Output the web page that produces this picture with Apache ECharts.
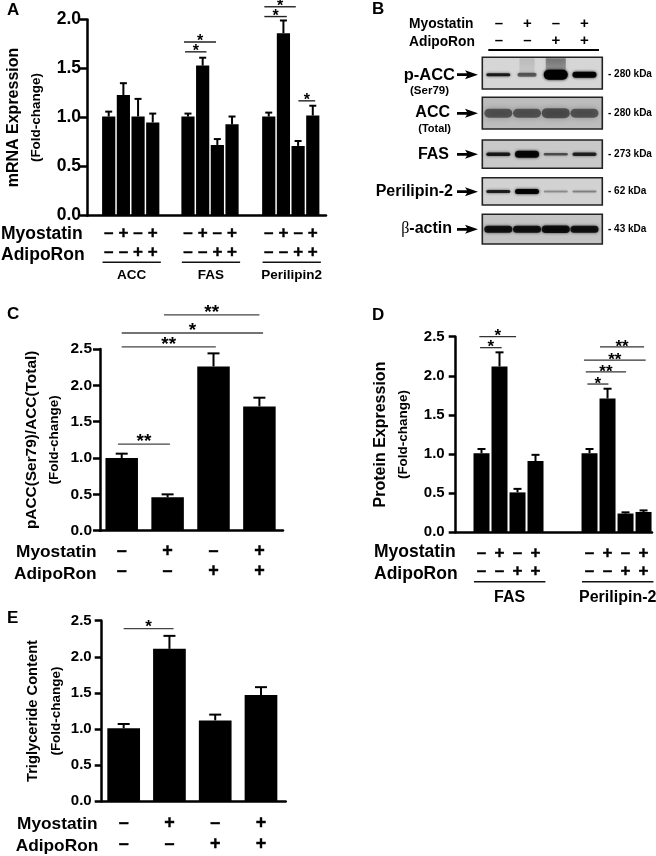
<!DOCTYPE html>
<html><head><meta charset="utf-8">
<style>html,body{margin:0;padding:0;background:#fff}#c{width:656px;height:856px}</style>
<script src="https://cdn.jsdelivr.net/npm/echarts@6/dist/echarts.min.js"></script>
</head><body><div id="c"></div>
<script>
// ---------- DATA ----------
const myostatinSigns = ['–','+','–','+'];
const adipoRonSigns  = ['–','–','+','+'];

const aGroups = ['ACC','FAS','Perilipin2'];
const aValues = [[1.01,1.23,1.01,0.95],[1.01,1.53,0.72,0.93],[1.01,1.86,0.71,1.02]];
const aErrTop = [[1.06,1.35,1.19,1.04],[1.04,1.61,0.78,1.01],[1.05,1.99,0.76,1.12]];
const aBrackets = [[5.20,6.66,1.67,'*'],[5.13,7.31,1.77,'*'],[10.60,12.13,2.03,'*'],[10.60,12.74,2.13,'*'],[12.92,14.06,1.17,'*']];

const cValues = [1.00,0.46,2.26,1.71];
const cErrTop = [1.06,0.50,2.44,1.83];
const cBrackets = [[-0.08,1.05,1.19,'**'],[0,2.05,2.53,'**'],[0,3.08,2.72,'*'],[0.92,3.0,2.97,'**']];

const dGroups = ['FAS','Perilipin-2'];
const dValues = [[1.01,2.12,0.51,0.91],[1.01,1.71,0.24,0.26]];
const dErrTop = [[1.065,2.30,0.555,0.99],[1.065,1.835,0.255,0.28]];
const dBrackets = [[-0.08,1.12,2.36,'*'],[-0.12,1.92,2.50,'*'],[5.88,7.05,1.895,'*'],[5.79,8.03,2.05,'**'],[5.69,9.12,2.20,'**'],[6.58,9.03,2.37,'**']];

const eValues = [1.01,2.11,1.12,1.47];
const eErrTop = [1.07,2.29,1.20,1.58];
const eBrackets = [[0,1.09,2.39,'*']];

// Western blot: band thickness and darkness per lane
const blotNames = ['p-ACC','ACC','FAS','Perilipin-2','β-actin'];
const blotKDa   = ['- 280 kDa','- 280 kDa','- 273 kDa','- 62 kDa','- 43 kDa'];
const blotThick = [[3,4,10,6],[9,9,10,9],[3.5,7,2.5,3.5],[3,5,2,2],[7,7,7.5,7]];
const blotDark  = [[0.8,0.5,1,0.95],[0.5,0.5,0.52,0.5],[0.8,0.9,0.55,0.75],[0.78,0.95,0.3,0.35],[0.82,0.82,0.85,0.82]];
const blotSmear = [[0,0.12,0.42,0],[0,0,0,0],[0,0,0,0],[0,0,0,0],[0,0,0,0]];

// ---------- LAYOUT ----------
const FF = '"Liberation Sans", Arial, sans-serif';
const F = (s, w='bold') => `${w} ${s}px ${FF}`;
const layouts = {
  A:{left:87, right:326, top:19.5, bottom:215.5, yMax:2, xMin:-1.478, xMax:14.8, barW:13.2, capW:7, tick:17.5, margin:6, origins:[0,5.4,10.9],
     row1:233.3,row2:252,signSize:17,starSize:16,starOff:0,brColor:'#222',brW:1.4,errW:2,
     name1:'mRNA Expression',s1:16,s2:13.5,gap:40,lh:22},
  C:{left:100, right:283, top:349, bottom:530.7, yMax:2.5, xMin:-0.473, xMax:3.514, barW:32.5, capW:12, tick:15.5, margin:8, origins:[0],
     row1:551,row2:571.5,signSize:18,starSize:19,starOff:2,brColor:'#444',brW:1.3,errW:2,
     name1:'pACC(Ser79)/ACC(Total)',s1:15.4,s2:13.5,gap:34,lh:23},
  D:{left:455.7,right:652, top:336.7,bottom:532.3,yMax:2.5, xMin:-1.433, xMax:9.47, barW:16, capW:8, tick:15, margin:11, origins:[0,6],
     row1:553,row2:571,signSize:17,starSize:17,starOff:0,brColor:'#333',brW:1.3,errW:2,
     name1:'Protein Expression',s1:16,s2:13.5,gap:41,lh:23},
  E:{left:101.7,right:285.7,top:620.7,bottom:801.3,yMax:2.5, xMin:-0.48, xMax:3.54, barW:32.7, capW:12, tick:15, margin:10, origins:[0],
     row1:822.7,row2:844,signSize:18,starSize:17,starOff:1,brColor:'#444',brW:1.3,errW:2,
     name1:'Triglyceride Content',s1:14.7,s2:13.5,gap:34,lh:23}
};
const blotGrid = {left:482.3, width:120, tops:[57.3,97.3,140,177.7,214.3], heights:[31.7,31.7,28.3,27.3,29.7],
  bands:[0.55,0.5,0.5,0.51,0.5], widths:[24,28,24,24,28], blur:[3,6,3,3,3], bg:['#d6d6d6','#bdbdbd','#c9c9c9','#d2d2d2','#c4c4c4'], xMin:-0.557, xMax:3.62};

const grid=[], xAxis=[], yAxis=[], series=[];

function textEl(x,y,text,font,heavy){
  const style={x,y,text,font,align:'center',verticalAlign:'middle',textAlign:'center',textVerticalAlign:'middle',fill:'#000'};
  if(heavy){style.stroke='#000';style.lineWidth=0.4;}
  return {type:'text',silent:true,style};
}

function addPanel(L, valueGroups, errGroups, brackets, groupNames, groupLine, groupLabelY){
  const i = grid.length;
  grid.push({left:L.left, top:L.top, width:L.right-L.left, height:L.bottom-L.top});
  xAxis.push({gridIndex:i,type:'value',min:L.xMin,max:L.xMax,axisTick:{show:false},axisLabel:{show:false},splitLine:{show:false},
    axisLine:{show:true,lineStyle:{color:'#000',width:2.5}}});
  yAxis.push({gridIndex:i,type:'value',min:0,max:L.yMax,interval:0.5,splitLine:{show:false},
    axisLine:{show:true,onZero:false,lineStyle:{color:'#000',width:2.5}},
    axisTick:{show:true,length:7,lineStyle:{color:'#000',width:2.5}},
    axisLabel:{margin:L.margin,fontFamily:FF,fontWeight:'bold',fontSize:L.tick,color:'#000',formatter:v=>v.toFixed(1)},
    name:`{a|${L.name1}}\n{b|(Fold-change)}`,nameLocation:'middle',nameGap:L.gap,nameRotate:90,
    nameTextStyle:{rich:{a:{fontFamily:FF,fontWeight:'bold',fontSize:L.s1,color:'#000',lineHeight:L.lh,align:'center'},
                         b:{fontFamily:FF,fontWeight:'bold',fontSize:L.s2,color:'#000',lineHeight:L.lh,align:'center'}}}});
  const bars=[], errs=[], signs=[];
  valueGroups.forEach((vals,g)=>{
    vals.forEach((v,k)=>{
      const x=L.origins[g]+k;
      bars.push([x,v]);
      errs.push([x,errGroups[g][k],v]);
      signs.push([x,myostatinSigns[k],adipoRonSigns[k]]);
    });
  });
  const base={xAxisIndex:i,yAxisIndex:i,silent:true,animation:false};
  series.push({...base,type:'bar',data:bars,barWidth:L.barW,itemStyle:{color:'#000'}});
  series.push({...base,type:'custom',data:errs,encode:{x:0,y:1},clip:false,renderItem:(p,api)=>{
    const x=api.value(0),t=api.coord([x,api.value(1)]),b=api.coord([x,api.value(2)]);
    const st={stroke:'#000',lineWidth:L.errW};
    return {type:'group',children:[
      {type:'line',shape:{x1:t[0],y1:t[1],x2:b[0],y2:b[1]},style:st},
      {type:'line',shape:{x1:t[0]-L.capW/2,y1:t[1],x2:t[0]+L.capW/2,y2:t[1]},style:st}]};
  }});
  series.push({...base,type:'custom',data:brackets,encode:{x:[0,1],y:2},clip:false,renderItem:(p,api)=>{
    const a=api.coord([api.value(0),api.value(2)]),b=api.coord([api.value(1),api.value(2)]);
    return {type:'group',children:[
      {type:'line',shape:{x1:a[0],y1:a[1],x2:b[0],y2:b[1]},style:{stroke:L.brColor,lineWidth:L.brW}},
      textEl((a[0]+b[0])/2,a[1]-L.starOff,brackets[p.dataIndex][3],F(L.starSize))]};
  }});
  series.push({...base,type:'custom',data:signs.map(s=>[s[0]]),encode:{x:0},clip:false,renderItem:(p,api)=>{
    const x=api.coord([api.value(0),0])[0], s=signs[p.dataIndex];
    return {type:'group',children:[textEl(x,L.row1,s[1],F(L.signSize),true),textEl(x,L.row2,s[2],F(L.signSize),true)]};
  }});
  if(groupNames){
    series.push({...base,type:'custom',data:groupNames.map((n,g)=>[L.origins[g]-0.42,L.origins[g]+3.55]),encode:{x:[0,1]},clip:false,renderItem:(p,api)=>{
      const a=api.coord([api.value(0),0])[0],b=api.coord([api.value(1),0])[0];
      return {type:'group',children:[
        {type:'line',shape:{x1:a,y1:groupLine,x2:b,y2:groupLine},style:{stroke:'#111',lineWidth:1.4}},
        textEl((a+b)/2,groupLabelY,groupNames[p.dataIndex],F(L.groupSize||13.5))]};
    }});
  }
}

addPanel(layouts.A,aValues,aErrTop,aBrackets,aGroups,262.3,275);
addPanel(layouts.C,[cValues],[cErrTop],cBrackets);
layouts.D.groupSize=16;
addPanel(layouts.D,dValues,dErrTop,dBrackets,dGroups,581.7,597.7);
addPanel(layouts.E,[eValues],[eErrTop],eBrackets);

// Western-blot strips: each one is its own small grid, lanes on x
blotNames.forEach((name,r)=>{
  const i=grid.length, B=blotGrid;
  grid.push({left:B.left,width:B.width,top:B.tops[r],height:B.heights[r],show:true,backgroundColor:B.bg[r],borderColor:'#222',borderWidth:1.6});
  xAxis.push({gridIndex:i,type:'value',min:B.xMin,max:B.xMax,show:false});
  yAxis.push({gridIndex:i,type:'value',min:0,max:1,inverse:true,show:false});
  const rows=blotThick[r].map((t,l)=>[l,B.bands[r],t,blotDark[r][l],blotSmear[r][l]]);
  series.push({type:'custom',xAxisIndex:i,yAxisIndex:i,silent:true,animation:false,clip:true,data:rows,encode:{x:0,y:1},renderItem:(p,api)=>{
    const c=api.coord([api.value(0),api.value(1)]),t=api.value(2),d=api.value(3),s=api.value(4);
    const w=B.widths[r]*(p.dataIndex===1&&r===0?0.8:1);
    const col=`rgba(0,0,0,${d})`, kids=[];
    if(s>0){
      const topY=api.coord([0,0])[1]+1;
      const sc=`rgba(0,0,0,${s*0.5})`;
      kids.push({type:'rect',shape:{x:c[0]-w/2+2,y:topY,width:w-4,height:c[1]-topY},
        style:{fill:{type:'linear',x:0,y:0,x2:0,y2:1,colorStops:[{offset:0,color:`rgba(0,0,0,${s})`},{offset:1,color:`rgba(0,0,0,${s*0.5})`}]},shadowBlur:5,shadowColor:sc}});
    }
    kids.push({type:'rect',shape:{x:c[0]-w/2,y:c[1]-t/2,width:w,height:t,r:t/2},style:{fill:col,shadowBlur:B.blur[r],shadowColor:col}});
    return {type:'group',children:kids};
  }});
});

// ---------- TEXT AND ANNOTATIONS ----------
const t=(x,y,text,size,align='left')=>({type:'text',silent:true,x,y,style:{text,font:F(size),fill:'#000',align,verticalAlign:'middle'}});
const ln=(x1,x2,y,w=1.6)=>({type:'line',silent:true,shape:{x1,y1:y,x2,y2:y},style:{stroke:'#000',lineWidth:w}});
const arrow=y=>({type:'polygon',silent:true,shape:{points:[[457,y-1.4],[467,y-1.4],[465,y-4.5],[478,y],[465,y+4.5],[467,y+1.4],[457,y+1.4]]},style:{fill:'#000'}});
const laneX=[498.8,527.5,556,584.5], bY=[74.7,113.3,154.3,191.7,229.3];
const graphic=[
  t(7,10,'A',17),t(372,9,'B',17),t(7,314,'C',17),t(372,315,'D',17),t(7,618,'E',17),
  t(1,234,'Myostatin',17.5),t(1,255.5,'AdipoRon',17.5),
  t(16,552,'Myostatin',17.3),t(14,574,'AdipoRon',17.3),
  t(374,552.3,'Myostatin',17.5),t(374,574,'AdipoRon',17.5),
  t(17,824,'Myostatin',17.3),t(15.7,846,'AdipoRon',17.3),
  t(409,24.3,'Myostatin',13.8),t(409,41.7,'AdipoRon',13.8),ln(488.3,599,50,1.8),
  t(455,75,'p-ACC',16.5,'right'),t(449,90.7,'(Ser79)',11.5,'right'),
  t(450,113,'ACC',16,'right'),t(451,129.3,'(Total)',11,'right'),
  t(449,154.3,'FAS',16,'right'),t(453,191.7,'Perilipin-2',16,'right'),
  {type:'text',silent:true,x:452,y:229,style:{text:'{s|β}{b|-actin}',align:'right',verticalAlign:'middle',
    rich:{s:{fontFamily:'"Liberation Serif", serif',fontSize:16,fill:'#000',color:'#000'},b:{fontFamily:FF,fontWeight:'bold',fontSize:16,fill:'#000',color:'#000'}}}}
];
myostatinSigns.forEach((s,k)=>graphic.push(t(laneX[k],24,s,15,'center')));
adipoRonSigns.forEach((s,k)=>graphic.push(t(laneX[k],41,s,15,'center')));
bY.forEach((y,r)=>{
  graphic.push(arrow(y));
  graphic.push(t(608,y-0.5,blotKDa[r],10));
});

const chart=echarts.init(document.getElementById('c'),null,{renderer:'canvas'});
chart.setOption({animation:false,backgroundColor:'#fff',grid,xAxis,yAxis,series,graphic:{elements:graphic}});
</script></body></html>
